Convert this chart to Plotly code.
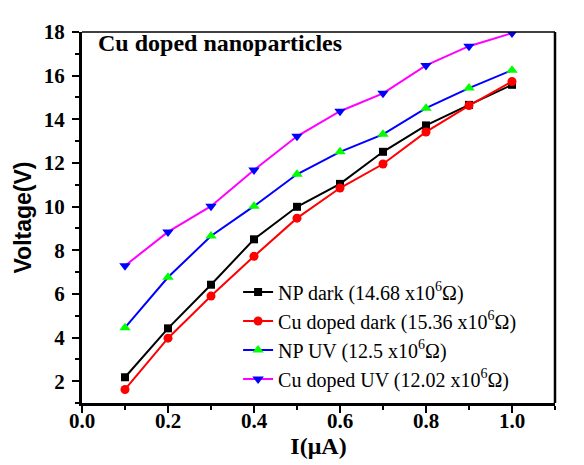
import plotly.graph_objects as go

# current (uA)
current = [0.1, 0.2, 0.3, 0.4, 0.5, 0.6, 0.7, 0.8, 0.9, 1.0]

# voltage readings (V)
np_dark = [2.18, 4.42, 6.42, 8.50, 9.99, 11.04, 12.51, 13.72, 14.66, 15.58]
cu_dark = [1.62, 3.97, 5.90, 7.72, 9.47, 10.85, 11.95, 13.42, 14.63, 15.73]
np_uv = [4.45, 6.76, 8.65, 10.02, 11.48, 12.51, 13.31, 14.51, 15.43, 16.25]
cu_uv = [7.29, 8.84, 10.02, 11.68, 13.22, 14.37, 15.19, 16.47, 17.35, 17.95]

names = [
    "NP dark (14.68 x10<sup>6</sup>Ω)",
    "Cu doped dark (15.36 x10<sup>6</sup>Ω)",
    "NP UV (12.5 x10<sup>6</sup>Ω)",
    "Cu doped UV (12.02 x10<sup>6</sup>Ω)",
]

serif = "Liberation Serif"

fig = go.Figure()
fig.add_trace(go.Scatter(x=current, y=np_dark, name=names[0], mode="lines+markers",
                         line=dict(color="black", width=2),
                         marker=dict(symbol="square", size=8, color="black")))
fig.add_trace(go.Scatter(x=current, y=cu_dark, name=names[1], mode="lines+markers",
                         line=dict(color="#ff0000", width=2),
                         marker=dict(symbol="circle", size=9, color="#ff0000")))
fig.add_trace(go.Scatter(x=current, y=np_uv, name=names[2], mode="lines+markers",
                         line=dict(color="#0000ff", width=2),
                         marker=dict(symbol="triangle-up", size=10, color="#00ff00")))
fig.add_trace(go.Scatter(x=current, y=cu_uv, name=names[3], mode="lines+markers",
                         line=dict(color="#ff00ff", width=2),
                         marker=dict(symbol="triangle-down", size=10, color="#0000ff")))

axis_common = dict(showgrid=False, zeroline=False, showline=True, linecolor="black",
                   linewidth=3, ticks="outside", ticklen=7, tickwidth=2, tickcolor="black",
                   tickfont=dict(family=serif, size=21, color="black", weight="bold"))

fig.update_xaxes(range=[0, 1.1], dtick=0.2, tickformat=".1f", ticklabelstandoff=-10,
                 minor=dict(dtick=0.1, ticks="outside", ticklen=4, tickwidth=2, tickcolor="black"),
                 title=dict(text="I(μA)", font=dict(family=serif, size=24, color="black", weight="bold"),
                            standoff=0),
                 **axis_common)
fig.update_yaxes(range=[1, 18], dtick=2, tick0=0, ticklabelstandoff=3,
                 minor=dict(dtick=1, ticks="outside", ticklen=4, tickwidth=2, tickcolor="black"),
                 title=dict(text="Voltage(V)", font=dict(family="Liberation Sans",
                                                         size=23, color="black", weight="bold"),
                            standoff=6),
                 **axis_common)

# frame top and right
fig.add_shape(type="line", xref="paper", yref="paper", x0=0, x1=1, y0=1, y1=1,
              line=dict(color="black", width=1.5))
fig.add_shape(type="line", xref="paper", yref="paper", x0=1, x1=1, y0=0, y1=1,
              line=dict(color="black", width=2.5))

fig.add_annotation(text="Cu doped nanoparticles", xref="paper", yref="paper",
                   x=0.03, y=0.97, xanchor="left", yanchor="middle", showarrow=False,
                   font=dict(family=serif, size=24, color="black", weight="bold"))

fig.update_layout(
    width=584, height=465,
    margin=dict(l=74, r=37, t=21, b=70),
    paper_bgcolor="white", plot_bgcolor="white",
    showlegend=True,
    legend=dict(x=0.33, y=0.012, xanchor="left", yanchor="bottom",
                bgcolor="rgba(0,0,0,0)", tracegroupgap=0, itemwidth=30,
                font=dict(family=serif, size=20, color="black")),
)

fig.write_html("out.html")
